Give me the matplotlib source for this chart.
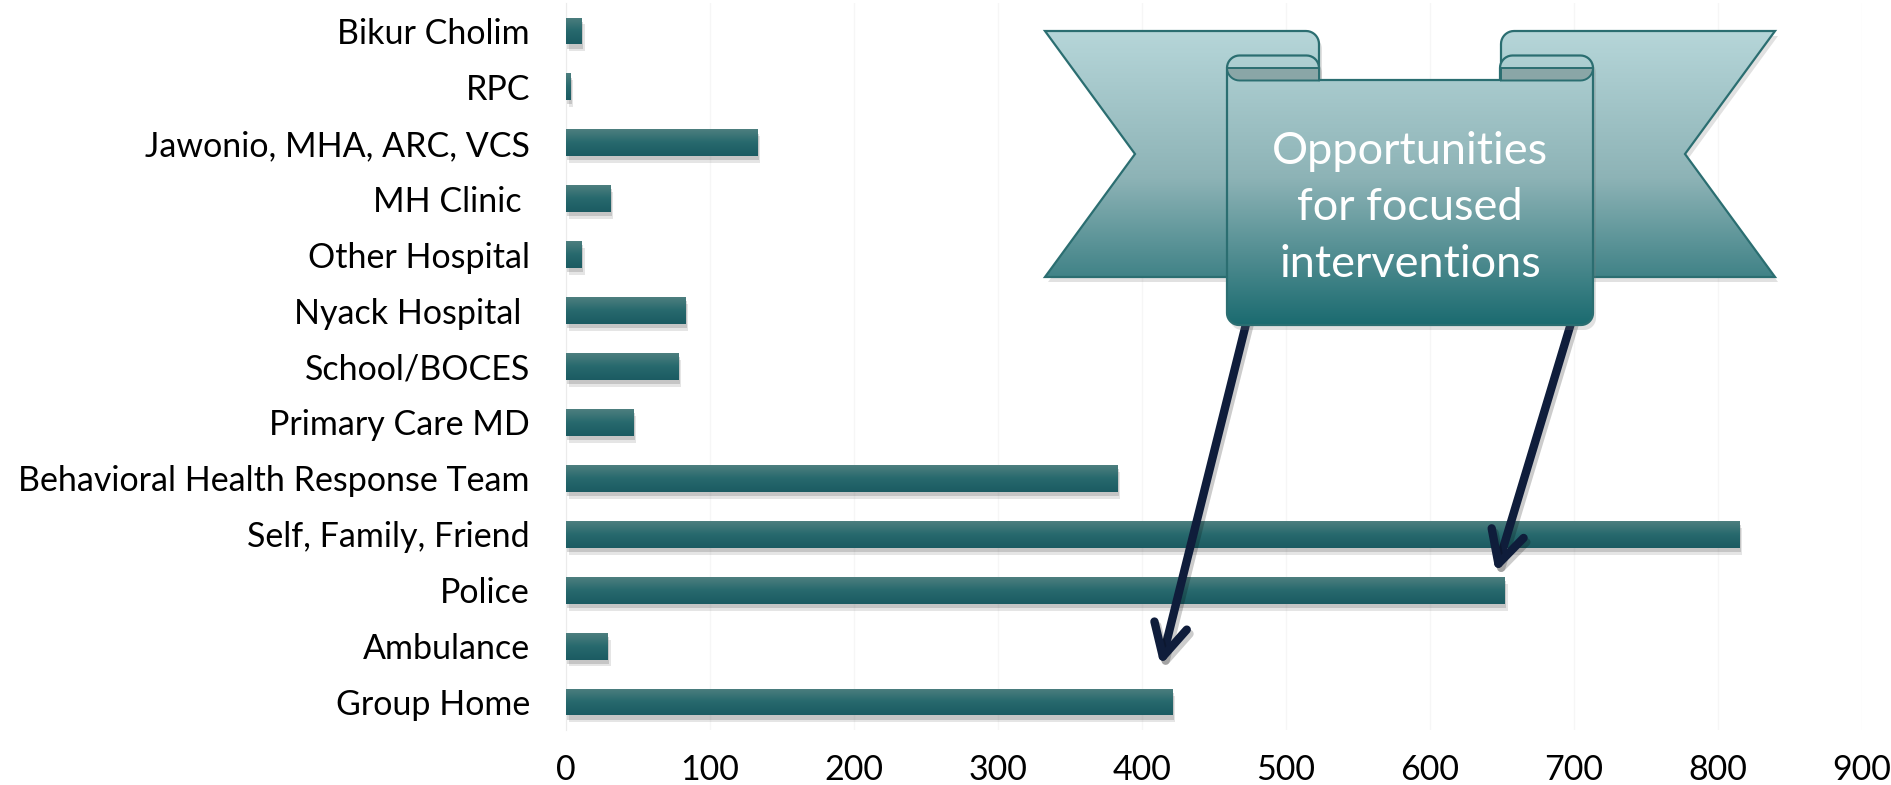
import numpy as np
import matplotlib
matplotlib.use("agg")
import matplotlib.pyplot as plt
from matplotlib.path import Path
from matplotlib.patches import PathPatch, FancyArrowPatch, ArrowStyle
from matplotlib.colors import LinearSegmentedColormap
import matplotlib.patheffects as pe

# data
categories = ["Bikur Cholim", "RPC", "Jawonio, MHA, ARC, VCS", "MH Clinic ",
              "Other Hospital", "Nyack Hospital ", "School/BOCES", "Primary Care MD",
              "Behavioral Health Response Team", "Self, Family, Friend", "Police",
              "Ambulance", "Group Home"]
values = [11, 3, 133, 31, 11, 83, 78, 47, 383, 815, 652, 29, 421]
xticks = [0, 100, 200, 300, 400, 500, 600, 700, 800, 900]
banner_text = "Opportunities\nfor focused\ninterventions"

plt.rcParams['font.family'] = ['Lato', 'DejaVu Sans']

W, H = 1891, 785
fig = plt.figure(figsize=(W / 100, H / 100), dpi=100)
ax = fig.add_axes([566 / W, 55 / H, (1862 - 566) / W, (782 - 55) / H])

bar_cmap = LinearSegmentedColormap.from_list("bar", ["#4e7f7f", "#27696d", "#1b5b62"])
ban_cmap = LinearSegmentedColormap.from_list("ban", ["#b6d6d9", "#8db3b6", "#1b6b70"])
grad = np.linspace(0, 1, 256).reshape(-1, 1)

y = np.arange(len(categories))
bars = ax.barh(y, values, height=0.48, color="#1d5f66", zorder=2)
for b in bars:
    b.set_path_effects([pe.SimplePatchShadow(offset=(2, -5), shadow_rgbFace="#555555", alpha=0.15),
                        pe.SimplePatchShadow(offset=(1, -3), shadow_rgbFace="#555555", alpha=0.22),
                        pe.Normal()])
    x0, y0 = b.get_x(), b.get_y()
    im = ax.imshow(grad, cmap=bar_cmap, aspect="auto", zorder=3,
                   extent=(x0, x0 + b.get_width(), y0 + b.get_height(), y0))
    im.set_clip_path(b)

ax.set_xlim(0, 900)
ax.set_ylim(len(categories) - 0.5, -0.5)
ax.set_yticks(y)
ax.set_yticklabels(categories)
ax.set_xticks(xticks)
ax.tick_params(axis="both", length=0, labelsize=24.5)
ax.tick_params(axis="y", pad=26)
ax.tick_params(axis="x", pad=17)
ax.grid(axis="x", color="#f6f6f6", lw=1, zorder=0)
ax.set_axisbelow(True)
for s in ["top", "right", "bottom"]:
    ax.spines[s].set_visible(False)
ax.spines["left"].set_color("#ebebeb")

# banner overlay in pixel coordinates
ov = fig.add_axes([0, 0, 1, 1], zorder=5)
ov.set_xlim(0, W)
ov.set_ylim(H, 0)
ov.axis("off")


def arc(cx, cy, r, a0, a1, n=10):
    t = np.radians(np.linspace(a0, a1, n))
    return list(zip(cx + r * np.cos(t), cy + r * np.sin(t)))


def shape(pts):
    pts = list(pts) + [pts[0]]
    codes = [Path.MOVETO] + [Path.LINETO] * (len(pts) - 2) + [Path.CLOSEPOLY]
    return Path(pts, codes)


def grad_fill(path, z, shadow=True):
    if shadow:
        sh = PathPatch(path, fc="#777777", ec="none", alpha=0.22, zorder=z - 0.5,
                       transform=matplotlib.transforms.Affine2D().translate(3, 5) + ov.transData)
        ov.add_patch(sh)
    p = PathPatch(path, fc="none", ec="#2b6e71", lw=1.6, zorder=z + 0.2)
    ov.add_patch(p)
    im = ov.imshow(grad, cmap=ban_cmap, aspect="auto", extent=(1045, 1775, 325, 31), zorder=z)
    im.set_clip_path(p)


left_tail = [(1045, 31), (1306, 31)] + arc(1306, 44, 13, 270, 360) + [(1319, 277), (1045, 277), (1135, 154)]
right_tail = [(2820 - px, py) for px, py in left_tail]

panel = ([(1227, 68), (1227, 313)] + arc(1239, 313, 12, 180, 90) + arc(1581, 313, 12, 90, 0)
         + arc(1580.5, 68, 12.5, 360, 270) + arc(1512.5, 68, 12.5, 270, 180) + [(1500, 80), (1319, 80)]
         + arc(1306.5, 68, 12.5, 360, 270) + arc(1239.5, 68, 12.5, 270, 180))

# arrows (emerge from below the panel)
for start, tip in [((1252, 300), (1160, 668)), ((1578, 300), (1495, 575))]:
    arr = FancyArrowPatch(start, tip, arrowstyle=ArrowStyle("->", head_length=2.3, head_width=1.2),
                          mutation_scale=10, lw=6, color="#0f1d3b", capstyle="round",
                          joinstyle="round", zorder=1,
                          path_effects=[pe.SimpleLineShadow(offset=(2, -3), alpha=0.2), pe.Normal()])
    ov.add_patch(arr)

grad_fill(shape(left_tail), 2)
grad_fill(shape(right_tail), 2)
grad_fill(shape(panel), 4)

left_dark = arc(1239.5, 68, 12.5, 180, 90) + [(1319, 80.5), (1319, 68)]
right_dark = [(2820 - px, py) for px, py in left_dark]
for d in [left_dark, right_dark]:
    ov.add_patch(PathPatch(shape(d), fc="#8aa6a7", ec="#2b6e71", lw=1.4, zorder=4.5))

ov.text(1410, 208, banner_text, color="white", fontsize=32.5, ha="center", va="center",
        linespacing=1.47, zorder=6)

ov.set_xlim(0, W)
ov.set_ylim(H, 0)

fig.savefig("out.png", dpi=100, facecolor="white")
